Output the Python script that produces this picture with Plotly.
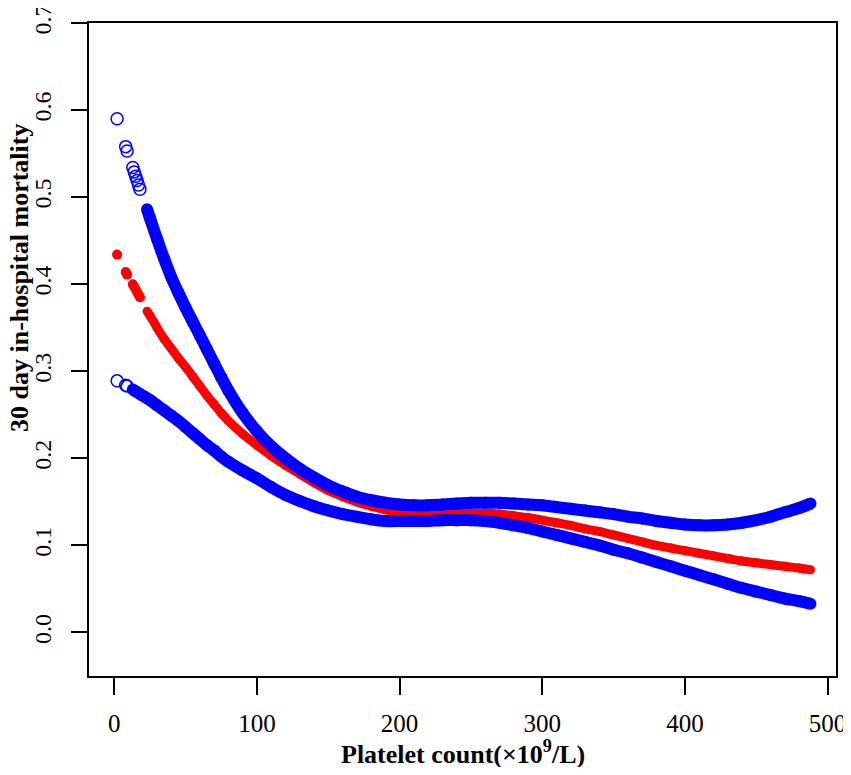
import plotly.graph_objects as go

# first few patients, drawn as separate circles
sparse_x = [2, 8, 9, 13, 14, 15, 16, 17, 18]
sparse_upper = [0.590, 0.558, 0.553, 0.534, 0.529, 0.524, 0.519, 0.514, 0.509]
sparse_fit = [0.434, 0.414, 0.411, 0.400, 0.397, 0.394, 0.391, 0.388, 0.385]
sparse_lower = [0.289, 0.284, 0.283]
sparse_lower_x = [2, 8, 9]

# dense part of the curves
dense_x = [23, 25, 30, 35, 40, 45, 50, 55, 60, 65, 70, 75, 80, 90, 100, 110, 120, 130, 140, 150,
           160, 170, 180, 190, 200, 210, 220, 230, 240, 250, 260, 270, 280, 290, 300, 310, 320, 330,
           340, 350, 360, 370, 380, 390, 400, 410, 420, 430, 440, 450, 460, 470, 480, 488]
upper_y = [0.486, 0.476, 0.452, 0.429, 0.408, 0.390, 0.373, 0.357, 0.341, 0.325, 0.309, 0.293, 0.278,
           0.252, 0.231, 0.214, 0.200, 0.188, 0.178, 0.169, 0.162, 0.156, 0.152, 0.149, 0.147, 0.146,
           0.146, 0.147, 0.148, 0.149, 0.149, 0.149, 0.148, 0.147, 0.146, 0.144, 0.142, 0.140, 0.138,
           0.136, 0.133, 0.131, 0.128, 0.126, 0.124, 0.123, 0.123, 0.124, 0.126, 0.129, 0.133, 0.138,
           0.143, 0.148]
fit_y = [0.369, 0.364, 0.350, 0.337, 0.326, 0.315, 0.305, 0.294, 0.283, 0.272, 0.262, 0.252, 0.243,
         0.228, 0.215, 0.203, 0.192, 0.182, 0.172, 0.163, 0.156, 0.150, 0.145, 0.141, 0.139, 0.138,
         0.137, 0.137, 0.137, 0.137, 0.137, 0.136, 0.134, 0.132, 0.129, 0.126, 0.123, 0.119, 0.116,
         0.112, 0.108, 0.104, 0.100, 0.097, 0.094, 0.091, 0.088, 0.085, 0.082, 0.080, 0.078, 0.076,
         0.074, 0.072]
lower_x = [13, 15, 18, 20, 23, 25, 30, 35, 40, 45, 50, 55, 60, 65, 70, 75, 80, 90, 100, 110, 120,
           130, 140, 150, 160, 170, 180, 190, 200, 210, 220, 230, 240, 250, 260, 270, 280, 290, 300,
           310, 320, 330, 340, 350, 360, 370, 380, 390, 400, 410, 420, 430, 440, 450, 460, 470, 480, 488]
lower_y = [0.279, 0.277, 0.274, 0.272, 0.269, 0.267, 0.261, 0.255, 0.249, 0.243, 0.236, 0.229, 0.222,
           0.215, 0.209, 0.202, 0.196, 0.186, 0.177, 0.167, 0.158, 0.151, 0.145, 0.140, 0.136, 0.133,
           0.130, 0.128, 0.128, 0.128, 0.128, 0.129, 0.129, 0.129, 0.128, 0.126, 0.123, 0.120, 0.116,
           0.112, 0.108, 0.104, 0.100, 0.095, 0.091, 0.086, 0.081, 0.076, 0.071, 0.066, 0.061, 0.056,
           0.051, 0.047, 0.043, 0.039, 0.036, 0.033]

x_ticks = [0, 100, 200, 300, 400, 500]
y_ticks = [0.0, 0.1, 0.2, 0.3, 0.4, 0.5, 0.6, 0.7]
y_tick_labels = ["0.0", "0.1", "0.2", "0.3", "0.4", "0.5", "0.6", "0.7"]

BLUE = "#0000ff"
RED = "#ff0000"
FONT = "Liberation Serif"

fig = go.Figure()

fig.add_trace(go.Scatter(x=dense_x, y=fit_y, mode="lines+markers",
                         line=dict(color=RED, width=9, shape="spline"),
                         marker=dict(color=RED, size=9)))
fig.add_trace(go.Scatter(x=sparse_x, y=sparse_fit, mode="markers",
                         marker=dict(color=RED, size=10)))

for xs, ys in [(dense_x, upper_y), (lower_x, lower_y)]:
    fig.add_trace(go.Scatter(x=xs, y=ys, mode="lines+markers",
                             line=dict(color=BLUE, width=12, shape="spline"),
                             marker=dict(color=BLUE, size=12)))

fig.add_trace(go.Scatter(x=sparse_x, y=sparse_upper, mode="markers",
                         marker=dict(symbol="circle-open", color=BLUE, size=12, line=dict(width=1.5))))
fig.add_trace(go.Scatter(x=sparse_lower_x, y=sparse_lower, mode="markers",
                         marker=dict(symbol="circle-open", color=BLUE, size=12, line=dict(width=1.5))))

axis_style = dict(showline=True, linecolor="black", linewidth=2, mirror=True, showgrid=False,
                  zeroline=False, ticks="outside", tickcolor="black", tickwidth=1.5, automargin=False,
                  ticklabeloverflow="allow")

# page body adds an 8px margin, so the figure is a bit smaller than the window
fig.update_layout(
    width=843, height=759,
    margin=dict(l=81, r=15, t=15, b=91),
    plot_bgcolor="white", paper_bgcolor="white",
    showlegend=False,
    xaxis=dict(range=[-17.7, 505.9], tickvals=x_ticks, ticklen=17, ticklabelstandoff=7,
               tickfont=dict(family=FONT, size=25, color="black"), **axis_style),
    yaxis=dict(range=[-0.05, 0.70], tickvals=y_ticks, ticktext=y_tick_labels, tickangle=-90,
               ticklen=16, ticklabelstandoff=10,
               tickfont=dict(family=FONT, size=24, color="black"), **axis_style),
    annotations=[
        dict(text="Platelet count(×10<sup>9</sup>/L)", xref="paper", yref="paper", x=0.5, y=-0.117,
             xanchor="center", yanchor="middle", showarrow=False,
             font=dict(family=FONT, size=26, color="black", weight="bold")),
        dict(text="30 day in-hospital mortality", xref="paper", yref="paper", x=-0.0924, y=0.6095,
             xanchor="center", yanchor="middle", textangle=-90, showarrow=False,
             font=dict(family=FONT, size=26, color="black", weight="bold")),
    ],
)

fig.write_html("out.html")
